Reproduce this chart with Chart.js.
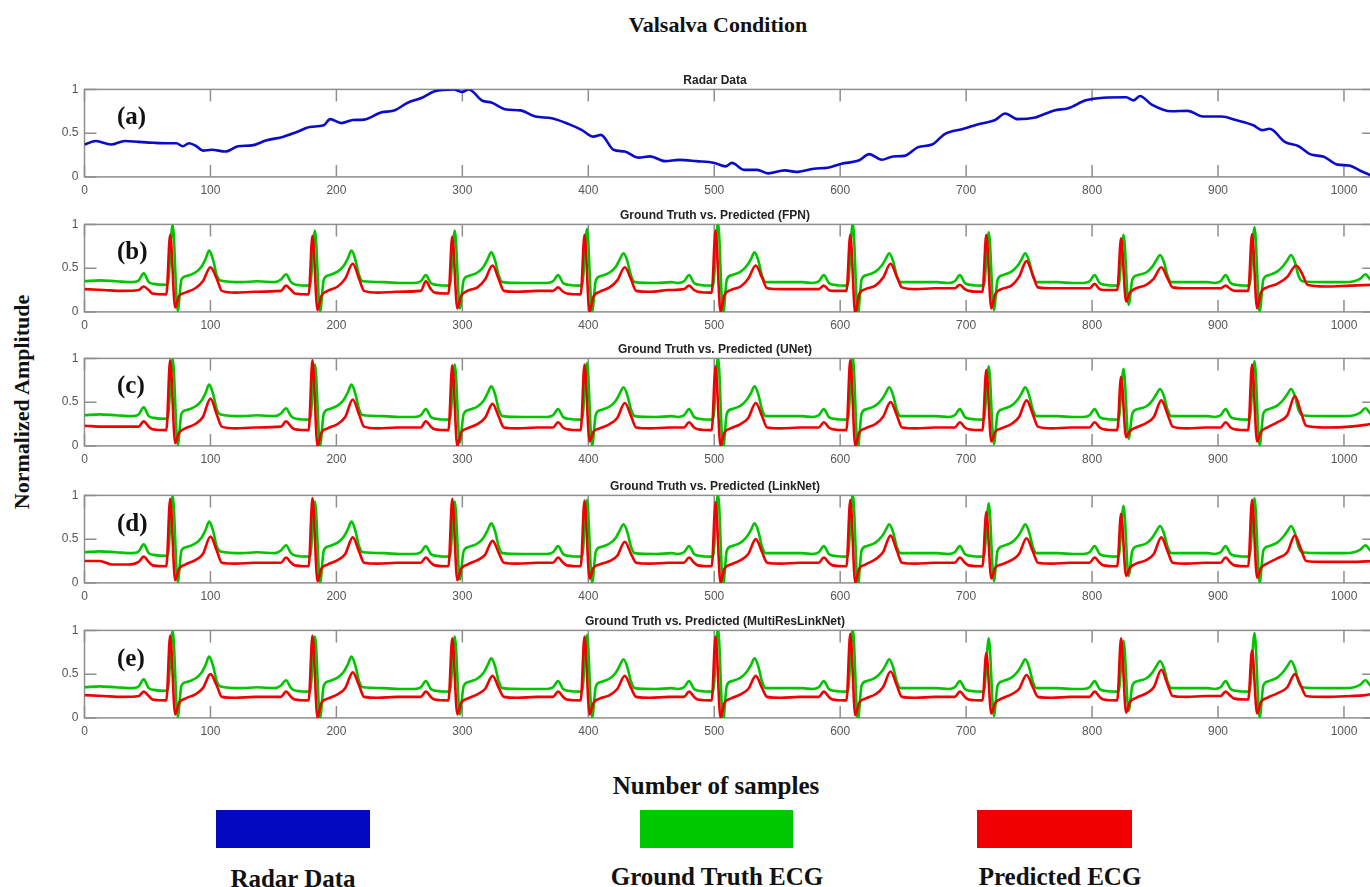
<!DOCTYPE html>
<html>
<head>
<meta charset="utf-8">
<title>Valsalva Condition</title>
<script src="https://cdn.jsdelivr.net/npm/chart.js@4.4.1/dist/chart.umd.min.js"></script>
<style>
	html, body { margin: 0; padding: 0; width: 1370px; height: 887px; overflow: hidden; background: #fff; }
	canvas.panel { position: absolute; left: 0; }
	.txt {
		position: absolute;
		font-family: 'Liberation Serif', 'Times New Roman', serif;
		font-weight: bold;
		color: #111;
		white-space: nowrap;
		transform: translate(-50%, -50%);
	}
	.plabel { position: absolute; font-family: 'Liberation Serif', 'Times New Roman', serif; font-weight: bold; font-size: 25px; color: #111; line-height: 1; }
	.swatch { position: absolute; top: 810px; height: 38px; }
</style>
</head>
<body>

<div class="txt" style="left:718px; top:25px; font-size:22px;">Valsalva Condition</div>
<div class="txt" style="left:22px; top:402px; font-size:22px; transform:translate(-50%,-50%) rotate(-90deg);">Normalized Amplitude</div>
<div class="txt" style="left:716px; top:786px; font-size:25px;">Number of samples</div>

<div class="swatch" style="left:216px; width:154px; background:#0309c0;"></div>
<div class="swatch" style="left:640px; width:153px; background:#00c800;"></div>
<div class="swatch" style="left:977px; width:155px; background:#f00000;"></div>
<div class="txt" style="left:293px; top:879px; font-size:25px;">Radar Data</div>
<div class="txt" style="left:717px; top:877px; font-size:25px;">Ground Truth ECG</div>
<div class="txt" style="left:1060px; top:877px; font-size:25px;">Predicted ECG</div>

<script>
// tick positions
const xTicks = [ 0, 100, 200, 300, 400, 500, 600, 700, 800, 900, 1000 ];
const yTicks = [ 0, 0.5, 1 ];

const panelTitles = [
	'Radar Data',
	'Ground Truth vs. Predicted (FPN)',
	'Ground Truth vs. Predicted (UNet)',
	'Ground Truth vs. Predicted (LinkNet)',
	'Ground Truth vs. Predicted (MultiResLinkNet)',
];
const panelLetters = [ '(a)', '(b)', '(c)', '(d)', '(e)' ];

// [sample, amplitude]
const radarData = [
	[0,0.37],[9,0.41],[21,0.37],[32,0.41],[43,0.40],[55,0.39],[66,0.385],[73,0.385],[78,0.35],[83,0.385],
	[89,0.35],[94,0.30],[101,0.31],[112,0.29],[122,0.35],[133,0.36],[144,0.415],[158,0.46],[168,0.51],[179,0.57],
	[190,0.59],[195,0.66],[204,0.615],[213,0.65],[222,0.655],[236,0.74],[245,0.755],[257,0.85],[268,0.905],[278,0.98],
	[293,1.0],[300,0.97],[305,1.0],[316,0.87],[323,0.85],[335,0.77],[346,0.76],[358,0.69],[371,0.67],[385,0.60],
	[395,0.535],[404,0.46],[410,0.48],[420,0.31],[429,0.29],[440,0.22],[449,0.235],[461,0.18],[472,0.195],[486,0.18],
	[500,0.16],[509,0.12],[514,0.16],[524,0.08],[534,0.08],[543,0.04],[556,0.075],[565,0.057],[579,0.094],[590,0.105],
	[601,0.15],[615,0.19],[623,0.26],[633,0.196],[642,0.234],[651,0.24],[662,0.34],[673,0.37],[683,0.49],[698,0.55],
	[709,0.60],[723,0.65],[731,0.725],[741,0.66],[755,0.68],[770,0.76],[781,0.785],[795,0.875],[809,0.905],[827,0.91],
	[833,0.875],[838,0.925],[847,0.83],[863,0.75],[876,0.755],[888,0.69],[903,0.69],[914,0.65],[928,0.59],[935,0.535],
	[941,0.55],[953,0.40],[964,0.35],[973,0.26],[984,0.23],[995,0.14],[1004,0.13],[1013,0.07],[1024,0.0],
];

const groundTruth = [
	[0,0.35],[12,0.36],[25,0.35],
	[38,0.34],[43,0.36],[47,0.44],[51,0.34],[55,0.32],[66,0.31],[70,1.0],[74,0.01],[77,0.37],[81,0.41],[88,0.45],[93,0.52],[96,0.60],[99,0.70],[102,0.60],[105,0.42],[108,0.36],[125,0.34],[137,0.35],
	[151,0.34],[156,0.37],[160,0.43],[164,0.34],[168,0.31],[179,0.30],[183,0.93],[187,0.0],[190,0.37],[194,0.42],[201,0.46],[206,0.53],[209,0.61],[212,0.70],[215,0.60],[218,0.42],[221,0.35],[238,0.34],[250,0.33],
	[262,0.33],[267,0.35],[271,0.42],[275,0.33],[279,0.31],[290,0.30],[294,0.93],[298,0.04],[301,0.36],[305,0.41],[312,0.45],[317,0.52],[320,0.60],[323,0.68],[326,0.59],[329,0.41],[332,0.34],[349,0.33],[361,0.33],
	[367,0.33],[372,0.35],[376,0.42],[380,0.33],[384,0.31],[395,0.30],[399,0.95],[403,0.0],[406,0.36],[410,0.41],[417,0.45],[422,0.52],[425,0.60],[428,0.67],[431,0.58],[434,0.41],[437,0.34],[454,0.33],[466,0.34],
	[471,0.33],[476,0.35],[480,0.42],[484,0.33],[488,0.31],[499,0.30],[503,1.02],[507,-0.03],[510,0.37],[514,0.42],[521,0.46],[526,0.53],[529,0.60],[532,0.68],[535,0.59],[538,0.41],[541,0.34],[558,0.34],[570,0.34],
	[578,0.33],[583,0.35],[587,0.42],[591,0.33],[595,0.31],[606,0.30],[610,1.02],[614,-0.03],[617,0.37],[621,0.42],[628,0.46],[633,0.53],[636,0.60],[639,0.67],[642,0.58],[645,0.41],[648,0.34],[665,0.34],[677,0.34],
	[686,0.33],[691,0.35],[695,0.42],[699,0.33],[703,0.31],[714,0.30],[718,0.91],[722,0.02],[725,0.37],[729,0.42],[736,0.46],[741,0.53],[744,0.60],[747,0.67],[750,0.58],[753,0.41],[756,0.34],[773,0.34],[785,0.33],
	[793,0.33],[798,0.35],[802,0.42],[806,0.33],[810,0.31],[821,0.30],[825,0.88],[829,0.08],[832,0.37],[836,0.42],[843,0.45],[848,0.52],[851,0.59],[854,0.65],[857,0.57],[860,0.41],[863,0.34],[880,0.34],[892,0.34],
	[897,0.33],[902,0.35],[906,0.42],[910,0.33],[914,0.31],[925,0.30],[929,0.97],[933,0.0],[936,0.37],[940,0.42],[947,0.46],[952,0.53],[955,0.59],[958,0.65],[961,0.57],[964,0.41],[967,0.35],[985,0.34],[1000,0.34],[1008,0.35],[1013,0.38],[1017,0.43],[1021,0.37],[1024,0.34],
];

const predictedFPN = [
	[0,0.26],[15,0.25],[30,0.24],
	[43,0.25],[47,0.29],[51,0.25],[54,0.21],[65,0.20],[68,0.88],[72,0.05],[75,0.18],[80,0.22],[88,0.27],[94,0.35],[100,0.51],[105,0.38],[109,0.24],[120,0.22],[135,0.23],
	[156,0.24],[160,0.30],[164,0.25],[167,0.21],[178,0.20],[181,0.87],[185,0.02],[188,0.18],[193,0.24],[201,0.29],[207,0.38],[213,0.55],[218,0.38],[222,0.24],[233,0.22],[248,0.23],
	[267,0.24],[271,0.35],[275,0.26],[278,0.22],[289,0.21],[292,0.86],[296,0.04],[299,0.18],[304,0.24],[312,0.28],[318,0.37],[324,0.53],[329,0.37],[333,0.24],[344,0.23],[359,0.24],
	[372,0.24],[376,0.28],[380,0.23],[383,0.21],[394,0.20],[397,0.88],[401,0.0],[404,0.17],[409,0.23],[417,0.28],[423,0.36],[429,0.51],[434,0.37],[438,0.24],[449,0.23],[464,0.25],
	[476,0.26],[480,0.30],[484,0.25],[487,0.23],[498,0.22],[501,0.93],[505,0.0],[508,0.19],[513,0.25],[521,0.29],[527,0.38],[533,0.53],[538,0.39],[542,0.27],[553,0.26],[568,0.26],
	[583,0.26],[587,0.30],[591,0.25],[594,0.24],[605,0.24],[608,0.88],[612,-0.02],[615,0.20],[620,0.26],[628,0.30],[634,0.39],[640,0.55],[645,0.40],[649,0.28],[660,0.26],[675,0.27],
	[691,0.27],[695,0.31],[699,0.26],[702,0.24],[713,0.23],[716,0.88],[720,0.04],[723,0.20],[728,0.26],[736,0.30],[742,0.40],[748,0.58],[753,0.42],[757,0.28],[768,0.27],[783,0.27],
	[798,0.27],[802,0.32],[806,0.26],[809,0.25],[820,0.25],[823,0.84],[827,0.12],[830,0.22],[835,0.27],[843,0.31],[849,0.38],[855,0.51],[860,0.38],[864,0.28],[875,0.27],[890,0.27],
	[902,0.27],[906,0.30],[910,0.26],[913,0.24],[924,0.24],[927,0.89],[931,0.04],[934,0.22],[939,0.28],[947,0.32],[955,0.40],[962,0.53],[967,0.43],[971,0.31],[985,0.29],[1005,0.30],[1024,0.31],
];

const predictedUNet = [
	[0,0.23],[15,0.22],[30,0.22],
	[43,0.22],[47,0.28],[51,0.22],[54,0.19],[65,0.18],[68,0.98],[72,0.03],[75,0.15],[80,0.20],[88,0.25],[94,0.33],[100,0.54],[105,0.36],[109,0.22],[120,0.20],[135,0.21],
	[156,0.22],[160,0.28],[164,0.22],[167,0.19],[178,0.18],[181,0.98],[185,0.0],[188,0.15],[193,0.20],[201,0.25],[207,0.33],[213,0.53],[218,0.36],[222,0.22],[233,0.20],[248,0.21],
	[267,0.21],[271,0.28],[275,0.22],[278,0.19],[289,0.18],[292,0.92],[296,0.0],[299,0.15],[304,0.20],[312,0.25],[318,0.32],[324,0.48],[329,0.33],[333,0.21],[344,0.20],[359,0.21],
	[372,0.21],[376,0.27],[380,0.21],[383,0.19],[394,0.18],[397,0.93],[401,0.05],[404,0.16],[409,0.20],[417,0.25],[423,0.32],[429,0.49],[434,0.34],[438,0.21],[449,0.20],[464,0.21],
	[476,0.21],[480,0.27],[484,0.21],[487,0.19],[498,0.18],[501,0.91],[505,0.0],[508,0.15],[513,0.20],[521,0.25],[527,0.32],[533,0.49],[538,0.34],[542,0.21],[553,0.20],[568,0.21],
	[583,0.21],[587,0.27],[591,0.21],[594,0.19],[605,0.18],[608,0.98],[612,0.0],[615,0.15],[620,0.20],[628,0.25],[634,0.33],[640,0.50],[645,0.35],[649,0.21],[660,0.20],[675,0.21],
	[691,0.21],[695,0.27],[699,0.21],[702,0.19],[713,0.18],[716,0.87],[720,0.05],[723,0.16],[728,0.20],[736,0.25],[742,0.33],[748,0.52],[753,0.36],[757,0.22],[768,0.20],[783,0.21],
	[798,0.21],[802,0.27],[806,0.21],[809,0.19],[820,0.18],[823,0.79],[827,0.10],[830,0.17],[835,0.21],[843,0.26],[849,0.33],[855,0.52],[860,0.36],[864,0.22],[875,0.20],[890,0.21],
	[902,0.21],[906,0.27],[910,0.21],[913,0.19],[924,0.18],[927,0.93],[931,0.05],[934,0.16],[939,0.21],[947,0.27],[955,0.35],[961,0.57],[966,0.38],[970,0.23],[985,0.21],[1005,0.22],[1017,0.24],[1024,0.26],
];

const predictedLinkNet = [
	[0,0.25],[12,0.25],[22,0.21],[35,0.21],
	[43,0.24],[47,0.30],[51,0.24],[54,0.20],[65,0.19],[68,0.96],[72,0.03],[75,0.16],[80,0.21],[88,0.26],[94,0.33],[100,0.53],[105,0.37],[109,0.23],[120,0.22],[135,0.23],
	[156,0.23],[160,0.29],[164,0.23],[167,0.20],[178,0.19],[181,0.97],[185,0.02],[188,0.16],[193,0.21],[201,0.26],[207,0.33],[213,0.52],[218,0.36],[222,0.23],[233,0.22],[248,0.23],
	[267,0.23],[271,0.29],[275,0.23],[278,0.20],[289,0.19],[292,0.96],[296,0.03],[299,0.16],[304,0.21],[312,0.26],[318,0.32],[324,0.48],[329,0.34],[333,0.23],[344,0.22],[359,0.23],
	[372,0.23],[376,0.29],[380,0.23],[383,0.20],[394,0.19],[397,0.94],[401,0.05],[404,0.17],[409,0.21],[417,0.25],[423,0.31],[429,0.47],[434,0.33],[438,0.23],[449,0.22],[464,0.23],
	[476,0.23],[480,0.29],[484,0.23],[487,0.20],[498,0.19],[501,0.92],[505,0.0],[508,0.16],[513,0.21],[521,0.26],[527,0.33],[533,0.50],[538,0.35],[542,0.23],[553,0.22],[568,0.23],
	[583,0.23],[587,0.29],[591,0.23],[594,0.20],[605,0.19],[608,0.95],[612,0.0],[615,0.16],[620,0.21],[628,0.27],[634,0.35],[640,0.54],[645,0.37],[649,0.23],[660,0.22],[675,0.23],
	[691,0.23],[695,0.29],[699,0.23],[702,0.20],[713,0.19],[716,0.81],[720,0.05],[723,0.17],[728,0.21],[736,0.26],[742,0.33],[748,0.51],[753,0.36],[757,0.23],[768,0.22],[783,0.23],
	[798,0.23],[802,0.29],[806,0.23],[809,0.20],[820,0.19],[823,0.79],[827,0.08],[830,0.17],[835,0.22],[843,0.26],[849,0.33],[855,0.52],[860,0.36],[864,0.23],[875,0.22],[890,0.23],
	[902,0.23],[906,0.29],[910,0.23],[913,0.20],[924,0.19],[927,0.95],[931,0.06],[934,0.17],[939,0.22],[947,0.28],[955,0.35],[961,0.54],[966,0.38],[970,0.25],[985,0.24],[1005,0.24],[1024,0.25],
];

const predictedMultiRes = [
	[0,0.26],[15,0.25],[30,0.24],
	[43,0.25],[47,0.30],[51,0.25],[54,0.21],[65,0.20],[68,0.94],[72,0.04],[75,0.17],[80,0.22],[88,0.27],[94,0.34],[100,0.50],[105,0.37],[109,0.24],[120,0.23],[135,0.24],
	[156,0.24],[160,0.30],[164,0.24],[167,0.21],[178,0.20],[181,0.94],[185,0.0],[188,0.17],[193,0.22],[201,0.27],[207,0.34],[213,0.52],[218,0.37],[222,0.24],[233,0.23],[248,0.24],
	[267,0.24],[271,0.30],[275,0.24],[278,0.21],[289,0.20],[292,0.91],[296,0.04],[299,0.17],[304,0.22],[312,0.27],[318,0.33],[324,0.48],[329,0.34],[333,0.24],[344,0.23],[359,0.24],
	[372,0.24],[376,0.30],[380,0.24],[383,0.21],[394,0.20],[397,0.93],[401,0.04],[404,0.17],[409,0.22],[417,0.26],[423,0.33],[429,0.48],[434,0.34],[438,0.24],[449,0.23],[464,0.24],
	[476,0.24],[480,0.30],[484,0.24],[487,0.21],[498,0.20],[501,0.93],[505,0.0],[508,0.17],[513,0.22],[521,0.27],[527,0.33],[533,0.48],[538,0.34],[542,0.24],[553,0.23],[568,0.24],
	[583,0.24],[587,0.30],[591,0.24],[594,0.21],[605,0.20],[608,0.96],[612,0.03],[615,0.17],[620,0.22],[628,0.27],[634,0.35],[640,0.53],[645,0.37],[649,0.24],[660,0.23],[675,0.24],
	[691,0.24],[695,0.30],[699,0.24],[702,0.21],[713,0.20],[716,0.74],[720,0.05],[723,0.17],[728,0.22],[736,0.27],[742,0.33],[748,0.49],[753,0.35],[757,0.24],[768,0.23],[783,0.24],
	[798,0.24],[802,0.30],[806,0.24],[809,0.21],[820,0.20],[823,0.91],[827,0.06],[830,0.18],[835,0.23],[843,0.28],[849,0.35],[855,0.55],[860,0.38],[864,0.25],[875,0.24],[890,0.25],
	[902,0.25],[906,0.30],[910,0.25],[913,0.22],[924,0.21],[927,0.77],[931,0.05],[934,0.18],[939,0.23],[947,0.28],[955,0.35],[961,0.50],[966,0.36],[970,0.25],[985,0.24],[1005,0.25],[1017,0.26],[1024,0.28],
];

const predictedSeries = [ predictedFPN, predictedUNet, predictedLinkNet, predictedMultiRes ];

// layout (px)
const plotTops = [ 89, 224, 358, 495.5, 630.5 ];
const PLOT_H = 87.5;
const PLOT_LEFT = 84.5;
const PLOT_RIGHT = 1374.2;
const CANVAS_W = 1430;
const CANVAS_H = 150;
const TITLE_PAD_TOP = 13;
const TITLE_PAD_BOTTOM = 2;
const TITLE_H = TITLE_PAD_TOP + 12 * 1.2 + TITLE_PAD_BOTTOM;
const X_AXIS_H = 30;
const TICK_LEN = 12;

const BLUE = '#0b0bcc';
const GREEN = '#00c400';
const RED = '#f00000';
const AXIS_COLOR = '#8e8e8e';
const TICK_COLOR = '#555555';
const SANS = "'Liberation Sans', Arial, Helvetica, sans-serif";

const toXY = ( pts ) => pts.map( ( p ) => ( { x: p[ 0 ], y: p[ 1 ] } ) );

// MATLAB-like box with inward ticks
const matlabBox = {
	id: 'matlabBox',
	beforeDatasetsDraw( chart ) {
		const { ctx, chartArea: a } = chart;
		const xs = chart.scales.x;
		const ys = chart.scales.y;
		ctx.save();
		ctx.strokeStyle = AXIS_COLOR;
		ctx.lineWidth = 1.5;
		ctx.strokeRect( a.left, a.top, a.right - a.left, a.bottom - a.top );
		ctx.beginPath();
		xs.ticks.forEach( ( t ) => {
			const px = xs.getPixelForValue( t.value );
			ctx.moveTo( px, a.bottom );
			ctx.lineTo( px, a.bottom - TICK_LEN );
			ctx.moveTo( px, a.top );
			ctx.lineTo( px, a.top + TICK_LEN );
		} );
		ys.ticks.forEach( ( t ) => {
			const py = ys.getPixelForValue( t.value );
			ctx.moveTo( a.left, py );
			ctx.lineTo( a.left + TICK_LEN, py );
			ctx.moveTo( a.right, py );
			ctx.lineTo( a.right - TICK_LEN, py );
		} );
		ctx.stroke();
		ctx.restore();
	},
};

const lineDataset = ( label, pts, color, order ) => ( {
	label,
	data: toXY( pts ),
	borderColor: color,
	backgroundColor: color,
	borderWidth: 2.6,
	pointRadius: 0,
	cubicInterpolationMode: 'monotone',
	order,
} );

panelTitles.forEach( ( title, i ) => {
	const canvas = document.createElement( 'canvas' );
	canvas.className = 'panel';
	canvas.width = CANVAS_W;
	canvas.height = CANVAS_H;
	canvas.style.top = ( plotTops[ i ] - TITLE_H ) + 'px';
	document.body.appendChild( canvas );

	const label = document.createElement( 'div' );
	label.className = 'plabel';
	label.textContent = panelLetters[ i ];
	label.style.left = '117px';
	label.style.top = ( plotTops[ i ] + 14 ) + 'px';
	document.body.appendChild( label );

	const datasets = i === 0
		? [ lineDataset( 'Radar Data', radarData, BLUE, 0 ) ]
		: [
			lineDataset( 'Ground Truth ECG', groundTruth, GREEN, 1 ),
			lineDataset( 'Predicted ECG', predictedSeries[ i - 1 ], RED, 0 ),
		];

	new Chart( canvas.getContext( '2d' ), {
		type: 'line',
		data: { datasets },
		options: {
			responsive: false,
			animation: false,
			layout: {
				padding: { top: 0, left: 0, right: 0, bottom: CANVAS_H - TITLE_H - PLOT_H - X_AXIS_H },
			},
			plugins: {
				legend: { display: false },
				tooltip: { enabled: false },
				title: {
					display: true,
					text: title,
					color: '#222',
					font: { family: SANS, size: 12, weight: 'bold' },
					padding: { top: TITLE_PAD_TOP, bottom: TITLE_PAD_BOTTOM },
				},
			},
			scales: {
				x: {
					type: 'linear',
					min: 0,
					max: 1024,
					grid: { display: false, drawTicks: false },
					border: { display: false },
					afterBuildTicks: ( s ) => { s.ticks = xTicks.map( ( v ) => ( { value: v } ) ); },
					afterFit: ( s ) => { s.height = X_AXIS_H; },
					ticks: {
						padding: 7,
						color: TICK_COLOR,
						font: { family: SANS, size: 12 },
						maxRotation: 0,
						autoSkip: false,
						callback: ( v ) => String( v ),
					},
				},
				y: {
					type: 'linear',
					min: 0,
					max: 1,
					grid: { display: false, drawTicks: false },
					border: { display: false },
					afterBuildTicks: ( s ) => { s.ticks = yTicks.map( ( v ) => ( { value: v } ) ); },
					afterFit: ( s ) => { s.width = PLOT_LEFT; },
					ticks: {
						padding: 6,
						color: TICK_COLOR,
						font: { family: SANS, size: 12 },
						callback: ( v ) => String( v ),
					},
				},
				yRight: {
					type: 'linear',
					position: 'right',
					min: 0,
					max: 1,
					grid: { display: false },
					border: { display: false },
					ticks: { display: false },
					afterFit: ( s ) => { s.width = CANVAS_W - PLOT_RIGHT; },
				},
			},
		},
		plugins: [ matlabBox ],
	} );
} );
</script>
</body>
</html>
